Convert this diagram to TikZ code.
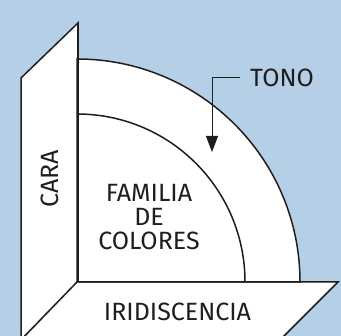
\documentclass[tikz,border=0pt]{standalone}
\usepackage{fontspec}
\setmainfont{Fira Sans}
\usetikzlibrary{arrows.meta,calc}
\definecolor{bgblue}{RGB}{181,208,230}
\definecolor{ink}{RGB}{30,30,30}
\begin{document}
\begin{tikzpicture}[x=1pt,y=1pt,
  edge/.style={draw=ink,line width=1.5pt,line join=miter},
  panel/.style={edge,fill=white},
  lbl/.style={text=ink,font=\fontsize{25}{24}\selectfont,inner sep=0pt,align=center},
  pointer/.style={draw=ink,line width=1pt,-{Triangle[width=12pt,length=16pt]}}]
\useasboundingbox (0,0) rectangle (341,336);
\fill[bgblue] (0,0) rectangle (341,336);
% center of quarter circles
\coordinate (O) at (77,54);
% left panel (CARA)
\path[panel] (21,-6) -- (21,258) -- (78,313) -- (78,54) -- (19,-6);
% bottom panel (IRIDISCENCIA)
\path[panel] (19,-6) -- (77,54) -- (338,54) -- (278,-6);
% outer sector
\path[panel] (O) -- ++(0,223) arc[start angle=90,end angle=0,radius=223] -- cycle;
% inner arc
\draw[edge] ($(O)+(0,168)$) arc[start angle=90,end angle=0,radius=168];
\draw[edge] (78,313) -- (78,54);
% labels
\node[lbl,anchor=west] (tono) at (250,258) {TONO};
\coordinate (bend) at (212,258);
\coordinate (tip) at (212,184);
\draw[pointer] (tono.west) ++(-10,0) coordinate (tstart) -- (bend) -- (tip);
\node[lbl,rotate=90] (cara) at (50,157) {CARA};
\node[lbl] (fam) at (149,119) {FAMILIA\\DE\\COLORES};
\node[lbl] (iri) at (177.5,24) {IRIDISCENCIA};
\end{tikzpicture}
\end{document}
